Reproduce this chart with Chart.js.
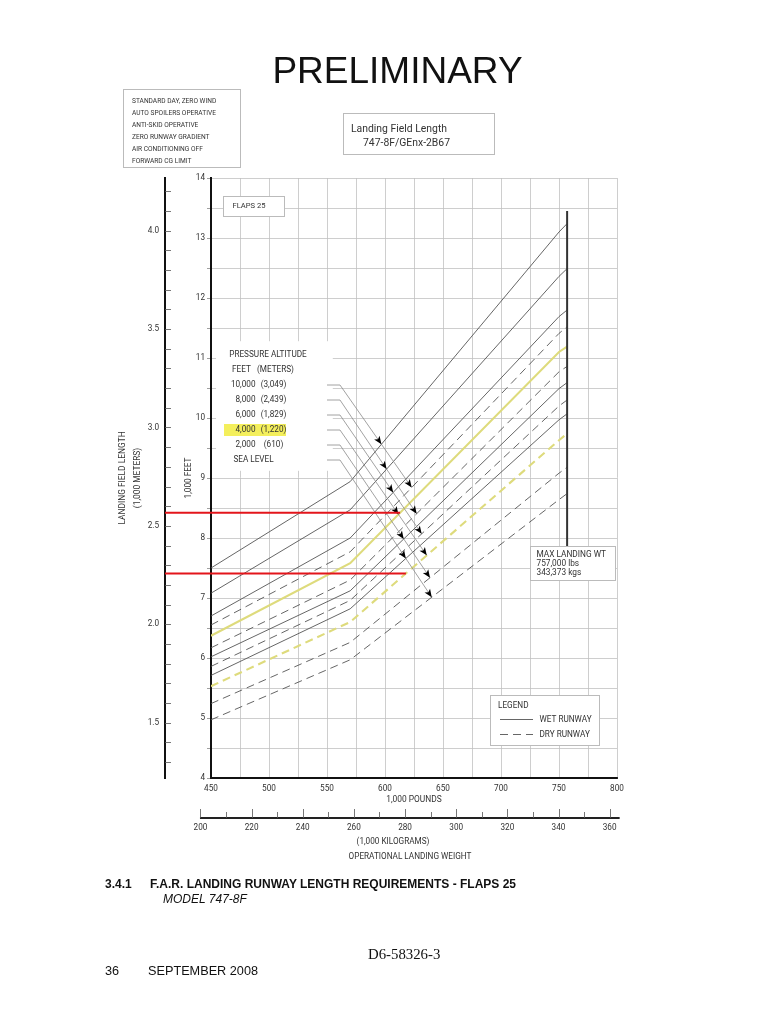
<!DOCTYPE html>
<html>
<head>
<meta charset="utf-8">
<script src="https://cdn.jsdelivr.net/npm/chart.js@4.4.0/dist/chart.umd.min.js"></script>
<style>
html, body { margin: 0; padding: 0; background: #fff; }
#page { position: relative; width: 768px; height: 1024px; overflow: hidden; font-family: Roboto, sans-serif; color: #222; }
#chart { position: absolute; left: 0; top: 0; }
.abs { position: absolute; white-space: nowrap; }
#prelim { left: 0; width: 795px; top: 49px; text-align: center; font: 37px "Liberation Sans", Arial, sans-serif; line-height: 44px; color: #111; }
#cond { left: 123px; top: 89px; width: 118px; height: 79px; border: 1px solid #bbb; box-sizing: border-box; padding: 5px 0 0 8px; font-size: 6.6px; line-height: 12.1px; color: #333; }
#tbox { left: 343px; top: 113px; width: 152px; height: 42px; border: 1px solid #bbb; box-sizing: border-box; font-size: 10.4px; color: #333; }
#tbox div { position: absolute; }
.foot { font-family: "Liberation Sans", Arial, sans-serif; color: #111; }
</style>
</head>
<body>
<div id="page">
  <canvas id="chart" width="768" height="1024"></canvas>
  <div class="abs" id="prelim">PRELIMINARY</div>
  <div class="abs" id="cond">STANDARD DAY, ZERO WIND<br>AUTO SPOILERS OPERATIVE<br>ANTI-SKID OPERATIVE<br>ZERO RUNWAY GRADIENT<br>AIR CONDITIONING OFF<br>FORWARD CG LIMIT</div>
  <div class="abs" id="tbox"><div style="left:7px;top:8px">Landing Field Length</div><div style="left:19px;top:22px">747-8F/GEnx-2B67</div></div>
  <div class="abs foot" style="left:105px;top:877px;font-size:12px;font-weight:bold">3.4.1</div>
  <div class="abs foot" style="left:150px;top:877px;font-size:12px;font-weight:bold">F.A.R. LANDING RUNWAY LENGTH REQUIREMENTS - FLAPS 25</div>
  <div class="abs foot" style="left:163px;top:892px;font-size:12px;font-style:italic">MODEL 747-8F</div>
  <div class="abs" style="left:368px;top:946px;font:14.8px 'Liberation Serif', serif;color:#111">D6-58326-3</div>
  <div class="abs foot" style="left:105px;top:964px;font-size:12.7px">36</div>
  <div class="abs foot" style="left:148px;top:964px;font-size:12.7px">SEPTEMBER 2008</div>
</div>
<script>
const FT_PER_M = 3.28084;
const LB_PER_KG = 2.20462;

// operational landing weight breakpoints (1,000 lb)
const weights = [450, 570, 750, 757];

// landing field length (1,000 ft) - wet runway
const wet10000 = [7.50, 8.94, 13.10, 13.24];
const wet8000  = [7.08, 8.47, 12.36, 12.49];
const wet6000  = [6.70, 8.00, 11.69, 11.80];
const wet4000  = [6.37, 7.58, 11.10, 11.19];
const wet2000  = [6.02, 7.12, 10.49, 10.59];
const wetSL    = [5.71, 6.82, 9.97, 10.07];
// dry runway
const dry10000 = [6.55, 7.77, 11.41, 11.52];
const dry8000  = [6.17, 7.30, 10.77, 10.86];
const dry6000  = [5.86, 6.96, 10.20, 10.30];
const dry4000  = [5.53, 6.60, 9.63, 9.74];
const dry2000  = [5.24, 6.26, 9.08, 9.18];
const drySL    = [4.97, 5.97, 8.64, 8.74];

const altFeet   = ['10,000', '8,000', '6,000', '4,000', '2,000', 'SEA LEVEL'];
const altMeters = ['(3,049)', '(2,439)', '(1,829)', '(1,220)', '(610)', ''];
const altRowY   = [10.55, 10.30, 10.05, 9.80, 9.55, 9.30];     // leader rows (1,000 ft)
const dryArrowW = [623.0, 627.3, 631.6, 636.0, 638.8, 640.3]; // where each leader ends (1,000 lb)

const maxLandingWt = 757;
const maxWtTop = 13.45;
const redReadW = [613, 618]; // read-offs on the 4,000 ft wet / dry lines

const meterTicks = [1.5, 2.0, 2.5, 3.0, 3.5, 4.0];
const kgTicks = [200, 210, 220, 230, 240, 250, 260, 270, 280, 290, 300, 310, 320, 330, 340, 350, 360];

const wetSeries = [wet10000, wet8000, wet6000, wet4000, wet2000, wetSL];
const drySeries = [dry10000, dry8000, dry6000, dry4000, dry2000, drySL];

const FONT = 'Roboto, sans-serif';
const LINE = '#555';
const HILITE = '#dedb7c';
const FS = 8.2;

function valueAt(arr, w) {
  for (let i = 0; i < weights.length - 1; i++) {
    if (w >= weights[i] && w <= weights[i + 1]) {
      const f = (w - weights[i]) / (weights[i + 1] - weights[i]);
      return arr[i] + (arr[i + 1] - arr[i]) * f;
    }
  }
  return arr[arr.length - 1];
}

const curves = [];
wetSeries.forEach((s, i) => curves.push({ s, dry: false, hl: i === 3 }));
drySeries.forEach((s, i) => curves.push({ s, dry: true, hl: i === 3 }));

const datasets = curves.map(c => ({
  data: weights.map((w, i) => ({ x: w, y: c.s[i] })),
  borderColor: c.hl ? HILITE : LINE,
  borderWidth: c.hl ? 2.1 : 0.9,
  borderDash: c.dry ? [8, 5] : [],
  pointRadius: 0,
  tension: 0,
  fill: false,
  order: c.hl ? 0 : 1
}));

function txt(ctx, s, x, y, size, align, color, weight) {
  ctx.font = (weight || '') + ' ' + size + 'px ' + FONT;
  ctx.fillStyle = color || '#333';
  ctx.textAlign = align || 'left';
  ctx.textBaseline = 'middle';
  ctx.fillText(s, x, y);
}

function box(ctx, x0, y0, x1, y1) {
  ctx.fillStyle = '#fff';
  ctx.fillRect(x0, y0, x1 - x0, y1 - y0);
  ctx.strokeStyle = '#bbb';
  ctx.lineWidth = 1;
  ctx.strokeRect(x0 + 0.5, y0 + 0.5, x1 - x0, y1 - y0);
}

function arrowHead(ctx, x, y, ang) {
  ctx.save();
  ctx.translate(x, y);
  ctx.rotate(ang);
  ctx.beginPath();
  ctx.moveTo(0, 0);
  ctx.lineTo(-8, -3.3);
  ctx.lineTo(-6, 0);
  ctx.lineTo(-8, 3.3);
  ctx.closePath();
  ctx.fillStyle = '#000';
  ctx.fill();
  ctx.restore();
}

const annotations = {
  id: 'annotations',
  beforeDatasetsDraw(chart) {
    const ctx = chart.ctx;
    const xs = chart.scales.x, ys = chart.scales.y;
    ctx.save();
    // white panel behind the pressure altitude key
    ctx.fillStyle = '#fff';
    const x0 = xs.getPixelForValue(454.3), x1 = xs.getPixelForValue(555);
    const y0 = ys.getPixelForValue(11.28), y1 = ys.getPixelForValue(9.12);
    ctx.fillRect(x0, y0, x1 - x0, y1 - y0);
    ctx.restore();
  },
  afterDatasetsDraw(chart) {
    const ctx = chart.ctx;
    const xs = chart.scales.x, ys = chart.scales.y;
    const X = v => xs.getPixelForValue(v), Y = v => ys.getPixelForValue(v);
    ctx.save();

    // max landing weight line
    ctx.strokeStyle = '#333';
    ctx.lineWidth = 2;
    ctx.beginPath();
    ctx.moveTo(X(maxLandingWt), Y(maxWtTop));
    ctx.lineTo(X(maxLandingWt), 547);
    ctx.stroke();

    // FLAPS 25 box
    box(ctx, 223, 196, 284, 216);
    txt(ctx, 'FLAPS 25', 232.5, 206.5, 7.6, 'left', '#333');

    // pressure altitude key
    txt(ctx, 'PRESSURE ALTITUDE', 268, 354.5, FS, 'center', '#333');
    txt(ctx, 'FEET   (METERS)', 263, 370, FS, 'center', '#333');
    altFeet.forEach((f, i) => {
      const y = Y(altRowY[i]);
      if (i === 3) {
        ctx.fillStyle = '#f4ef5c';
        ctx.fillRect(224, y - 6, 62, 12);
      }
      if (altMeters[i]) {
        txt(ctx, f, 255.5, y, FS, 'right', '#333');
        txt(ctx, altMeters[i], 273.5, y, FS, 'center', '#333');
      } else {
        txt(ctx, f, 253.5, y, FS, 'center', '#333');
      }
    });

    // leader lines with arrows onto wet and dry curves
    const labelEnd = 550, elbow = 561.2;
    altRowY.forEach((ry, i) => {
      const ex = X(elbow), ey = Y(ry);
      const dx = X(dryArrowW[i]), dy = Y(valueAt(drySeries[i], dryArrowW[i]));
      ctx.strokeStyle = '#8a8a8a';
      ctx.lineWidth = 0.8;
      ctx.beginPath();
      ctx.moveTo(X(labelEnd), ey);
      ctx.lineTo(ex, ey);
      ctx.lineTo(dx, dy);
      ctx.stroke();
      const ang = Math.atan2(dy - ey, dx - ex);
      let lo = 0, hi = 1;
      const f = t => {
        const px = ex + (dx - ex) * t, py = ey + (dy - ey) * t;
        return py - Y(valueAt(wetSeries[i], xs.getValueForPixel(px)));
      };
      for (let k = 0; k < 40; k++) {
        const m = (lo + hi) / 2;
        if (f(m) < 0) lo = m; else hi = m;
      }
      arrowHead(ctx, ex + (dx - ex) * lo, ey + (dy - ey) * lo, ang);
      arrowHead(ctx, dx, dy, ang);
    });

    // MAX LANDING WT box
    box(ctx, 530, 546, 615, 580);
    txt(ctx, 'MAX LANDING WT', 536.5, 554.5, 8.3, 'left', '#333');
    txt(ctx, '757,000 lbs', 536.5, 563.5, 8.3, 'left', '#333');
    txt(ctx, '343,373 kgs', 536.5, 572.5, 8.3, 'left', '#333');

    // legend
    box(ctx, 490, 695, 599, 745);
    txt(ctx, 'LEGEND', 498, 706, FS, 'left', '#333');
    ctx.strokeStyle = LINE;
    ctx.lineWidth = 0.9;
    ctx.beginPath(); ctx.moveTo(500, 719.5); ctx.lineTo(533, 719.5); ctx.stroke();
    ctx.setLineDash([8, 5]);
    ctx.beginPath(); ctx.moveTo(500, 734.5); ctx.lineTo(533, 734.5); ctx.stroke();
    ctx.setLineDash([]);
    txt(ctx, 'WET RUNWAY', 539.5, 719.5, FS, 'left', '#333');
    txt(ctx, 'DRY RUNWAY', 539.5, 734.5, FS, 'left', '#333');
    ctx.restore();
  },
  afterDraw(chart) {
    const ctx = chart.ctx;
    const xs = chart.scales.x, ys = chart.scales.y, ym = chart.scales.ym;
    const X = v => xs.getPixelForValue(v), Y = v => ys.getPixelForValue(v);
    ctx.save();

    // minor tick marks on the metre axis (to the right of its line)
    ctx.strokeStyle = '#555';
    ctx.lineWidth = 0.8;
    for (let v = 1.3; v < 4.27; v += 0.1) {
      const y = Math.round(ym.getPixelForValue(v)) + 0.5;
      ctx.beginPath(); ctx.moveTo(ym.right, y); ctx.lineTo(ym.right + 6, y); ctx.stroke();
    }

    // red read-off lines
    ctx.strokeStyle = '#e3151b';
    ctx.lineWidth = 2;
    [wet4000, dry4000].forEach((s, i) => {
      const y = Y(valueAt(s, redReadW[i]));
      ctx.beginPath(); ctx.moveTo(ym.right, y); ctx.lineTo(X(redReadW[i]), y); ctx.stroke();
    });

    // kilogram scale under the pound scale
    const kx = kg => X(kg * LB_PER_KG);
    const base = 818;
    ctx.strokeStyle = '#222';
    ctx.lineWidth = 2;
    ctx.beginPath(); ctx.moveTo(kx(kgTicks[0]) - 0.5, base); ctx.lineTo(kx(kgTicks[kgTicks.length - 1]) + 10, base); ctx.stroke();
    ctx.lineWidth = 0.8;
    ctx.strokeStyle = '#555';
    kgTicks.forEach(k => {
      const x = Math.round(kx(k)) + 0.5;
      const len = k % 20 === 0 ? 9 : 6;
      ctx.beginPath(); ctx.moveTo(x, base); ctx.lineTo(x, base - len); ctx.stroke();
      if (k % 20 === 0) txt(ctx, String(k), kx(k), 827.5, FS, 'center', '#333');
    });
    txt(ctx, '(1,000 KILOGRAMS)', 393, 842, FS, 'center', '#333');
    txt(ctx, 'OPERATIONAL LANDING WEIGHT', 410, 856.5, FS, 'center', '#333');
    ctx.restore();
  }
};

Chart.defaults.font.family = FONT;
Chart.defaults.color = '#333';

new Chart(document.getElementById('chart'), {
  type: 'line',
  data: { datasets },
  plugins: [annotations],
  options: {
    responsive: false,
    animation: false,
    layout: { padding: { left: 100, right: 151, top: 178, bottom: 216 } },
    plugins: { legend: { display: false }, tooltip: { enabled: false } },
    scales: {
      x: {
        type: 'linear', position: 'bottom', min: 450, max: 800,
        ticks: { stepSize: 25, autoSkip: false, maxRotation: 0, padding: 6, font: { size: FS }, callback: v => (v % 50 === 0 ? v : '') },
        grid: { color: '#c2c2c2', lineWidth: 0.8, drawTicks: false },
        border: { color: '#111', width: 2 },
        title: { display: true, text: '1,000 POUNDS', font: { size: 8.4, lineHeight: 1.2 }, padding: { top: 0, bottom: 3 } },
        afterFit: s => { s.height = 30; }
      },
      y: {
        type: 'linear', position: 'left', weight: 0, min: 4, max: 14,
        ticks: { stepSize: 0.5, autoSkip: false, padding: 2, font: { size: FS }, callback: v => (Number.isInteger(v) ? v : '') },
        grid: { color: '#c2c2c2', lineWidth: 0.8, tickLength: 4, tickColor: '#888' },
        border: { color: '#111', width: 2 },
        title: { display: true, text: '1,000 FEET', font: { size: 8.2, lineHeight: 1.2 }, padding: { top: 19, bottom: 0 } },
        afterFit: s => { s.width = 46; }
      },
      ym: {
        type: 'linear', position: 'left', weight: 1, min: 4 / FT_PER_M, max: 14 / FT_PER_M,
        afterBuildTicks: s => { s.ticks = meterTicks.map(v => ({ value: v })); },
        ticks: { padding: 6, font: { size: FS }, callback: v => v.toFixed(1) },
        grid: { display: false, drawTicks: false, drawOnChartArea: false },
        border: { display: true, color: '#111', width: 2 },
        title: { display: true, text: ['LANDING FIELD LENGTH', '(1,000 METERS)'], font: { size: 8.4, lineHeight: 1.8 }, padding: { top: 15.5, bottom: 0 } },
        afterFit: s => { s.width = 65; }
      }
    }
  }
});
</script>
</body>
</html>
